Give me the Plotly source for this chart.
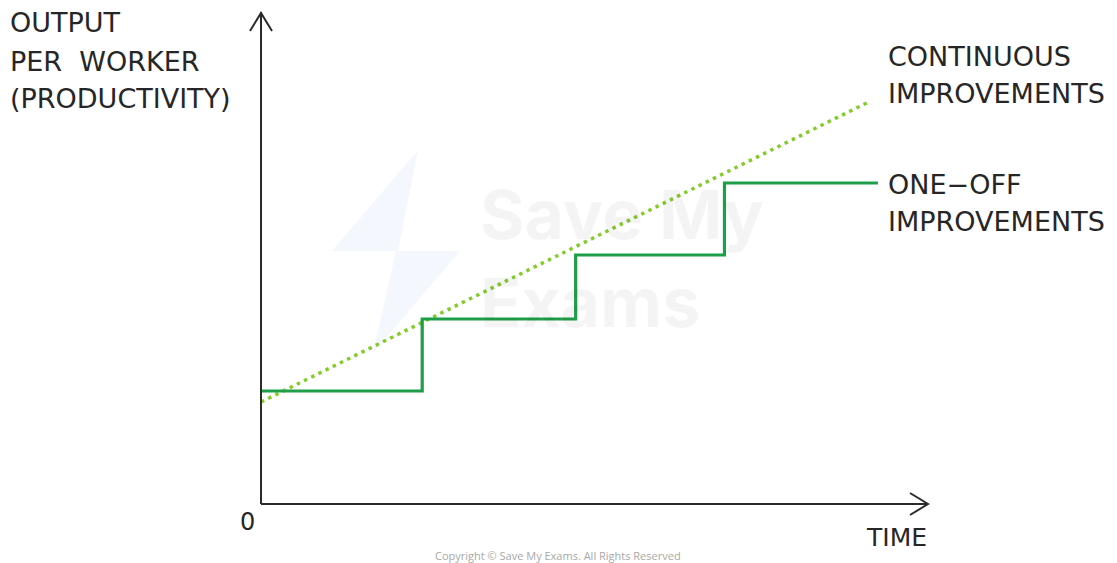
import plotly.graph_objects as go

# ---- data (time units, productivity units) ----
step_time = [0, 1.04, 2.03, 2.99, 3.98]
one_off_output = [11.3, 18.5, 24.9, 32.1, 32.1]
cont_time = [0, 3.92]
cont_output = [10.2, 40.2]

X_MAX = 4.303
Y_MAX = 49.2

# the page adds an 8px body margin, so the figure is laid out 8px in
OFF = 8
W, H = 1117 - OFF, 563 - OFF
L, R, T, B = 261 - OFF, 1117 - 928, 12 - OFF, 563 - 504
PW, PH = W - L - R, H - T - B

def px(x):
    # page pixel x -> paper fraction
    return (x - OFF - L) / PW

def py(y):
    # page pixel y -> paper fraction
    return (H - B - (y - OFF)) / PH

FONT = "DejaVu Sans"
TXT = "#262626"
AX = "#2b2b2b"

fig = go.Figure()

fig.add_trace(go.Scatter(
    x=cont_time, y=cont_output, mode="lines",
    line=dict(color="#84cc2c", width=3.5, dash="3.5px,4.5px"),
    hoverinfo="skip", showlegend=False))

fig.add_trace(go.Scatter(
    x=step_time, y=one_off_output, mode="lines",
    line=dict(color="#1f9e4a", width=3.2, shape="hv"),
    hoverinfo="skip", showlegend=False))

def path(pts, close=False):
    s = "M " + " L ".join(f"{px(a)},{py(b)}" for a, b in pts)
    return s + (" Z" if close else "")

shapes = []
# watermark logo (very faint)
shapes.append(dict(type="path", xref="paper", yref="paper", layer="below",
                   path=path([(418, 150), (332, 251), (398, 251)], True),
                   fillcolor="#f4f7fd", line=dict(width=0)))
shapes.append(dict(type="path", xref="paper", yref="paper", layer="below",
                   path=path([(396, 251), (460, 251), (373, 353)], True),
                   fillcolor="#f4f7fd", line=dict(width=0)))
# axes
shapes.append(dict(type="line", xref="paper", yref="paper", x0=0, y0=0, x1=0, y1=1,
                   line=dict(color=AX, width=2)))
shapes.append(dict(type="line", xref="paper", yref="paper", x0=0, y0=0, x1=1, y1=0,
                   line=dict(color=AX, width=2)))
# arrowheads
shapes.append(dict(type="path", xref="paper", yref="paper",
                   path=path([(250, 31), (261, 13), (272, 31)]),
                   line=dict(color=AX, width=2)))
shapes.append(dict(type="path", xref="paper", yref="paper",
                   path=path([(910, 493), (928, 504), (910, 515)]),
                   line=dict(color=AX, width=2)))

ann = []
def label(text, x, y, size=27, anchor="left", color=TXT, font=FONT):
    ann.append(dict(text=text, x=px(x), y=py(y), xref="paper", yref="paper",
                    xanchor=anchor, yanchor="middle", showarrow=False,
                    font=dict(family=font, size=size, color=color)))

# watermark text
ann.append(dict(text="<b>Save My<br>Exams</b>", x=px(478), y=py(258),
                xref="paper", yref="paper", align="left",
                xanchor="left", yanchor="middle", showarrow=False,
                font=dict(family="Inter", size=68, color="rgba(0,0,0,0.045)")))

label("OUTPUT", 8, 22)
label("PER  WORKER", 8, 61)
label("(PRODUCTIVITY)", 8, 98)
label("CONTINUOUS", 886, 57)
label("IMPROVEMENTS", 886, 94)
label("ONE−OFF", 886, 184)
label("IMPROVEMENTS", 886, 221)
label("0", 247, 522, 24, anchor="center")
label("TIME", 896, 537, 25, anchor="center")
label("Copyright © Save My Exams. All Rights Reserved", 558, 555, 11,
      anchor="center", color="#a8a8a8", font="Open Sans")

fig.update_layout(
    width=W, height=H,
    margin=dict(l=L, r=R, t=T, b=B, pad=0),
    paper_bgcolor="white", plot_bgcolor="rgba(0,0,0,0)",
    xaxis=dict(range=[0, X_MAX], visible=False, fixedrange=True),
    yaxis=dict(range=[0, Y_MAX], visible=False, fixedrange=True),
    shapes=shapes, annotations=ann, showlegend=False,
)

fig.write_html("out.html", config={"displayModeBar": False})
